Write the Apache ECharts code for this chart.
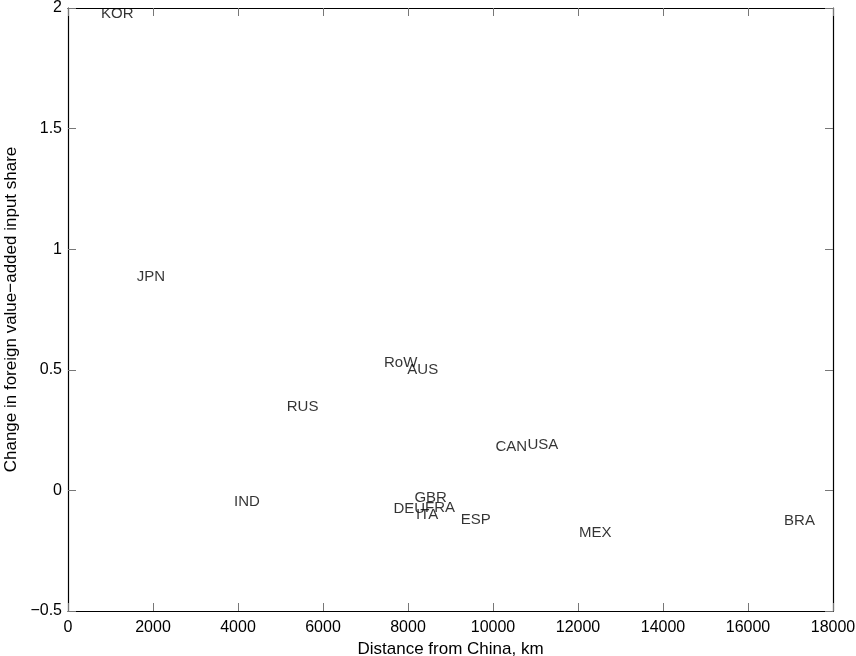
<!DOCTYPE html>
<html>
<head>
<meta charset="utf-8">
<script src="https://cdn.jsdelivr.net/npm/echarts@6/dist/echarts.min.js"></script>
<style>html,body{margin:0;padding:0;background:#fff}#c{width:856px;height:656px}</style>
</head>
<body>
<div id="c"></div>
<script>
var countries = ['KOR','JPN','RUS','IND','RoW','AUS','CAN','USA','GBR','DEU','FRA','ITA','ESP','MEX','BRA'];
var distances = [776, 1616, 5145, 3906, 7435, 7984, 10055, 10808, 8149, 7655, 8400, 8188, 9240, 12024, 16847];
var changes = [1.975, 0.886, 0.347, -0.049, 0.529, 0.499, 0.181, 0.188, -0.029, -0.077, -0.072, -0.102, -0.123, -0.178, -0.127];
var xTicks = [0, 2000, 4000, 6000, 8000, 10000, 12000, 14000, 16000, 18000];
var yTicks = [-0.5, 0, 0.5, 1, 1.5, 2];

var FONT = 'Liberation Sans, Arial, Helvetica, sans-serif';
var points = countries.map(function (c, i) { return { name: c, value: [distances[i], changes[i]] }; });

function fmtY(v) { return String(v).replace('-', '\u2212'); }
function fmtX(v) { return String(v); }

var tickStyle = { show: true, inside: true, length: 8, lineStyle: { color: '#777', width: 1 } };
var lineStyle = { show: true, onZero: false, lineStyle: { color: '#000', width: 1.2 } };

var chart = echarts.init(document.getElementById('c'), null, { renderer: 'canvas' });
chart.setOption({
  backgroundColor: '#fff',
  animation: false,
  grid: { left: 68, right: 23, top: 8, bottom: 45, containLabel: false, outerBoundsMode: 'none' },
  xAxis: [{
    type: 'value', min: xTicks[0], max: xTicks[xTicks.length - 1], interval: 2000,
    position: 'bottom',
    name: 'Distance from China, km', nameLocation: 'middle', nameGap: 28,
    nameTextStyle: { fontFamily: FONT, fontSize: 17, color: '#000' },
    axisLine: lineStyle, axisTick: tickStyle,
    axisLabel: { fontFamily: FONT, fontSize: 16, color: '#000', margin: 9, formatter: fmtX },
    splitLine: { show: false }
  }, {
    type: 'value', min: xTicks[0], max: xTicks[xTicks.length - 1], interval: 2000,
    position: 'top',
    axisLine: lineStyle, axisTick: tickStyle,
    axisLabel: { show: false }, splitLine: { show: false }
  }],
  yAxis: [{
    type: 'value', min: yTicks[0], max: yTicks[yTicks.length - 1], interval: 0.5,
    position: 'left',
    name: 'Change in foreign value\u2212added input share', nameLocation: 'middle', nameGap: 47,
    nameTextStyle: { fontFamily: FONT, fontSize: 17, color: '#000' },
    axisLine: lineStyle, axisTick: tickStyle,
    axisLabel: { fontFamily: FONT, fontSize: 16, color: '#000', margin: 6, formatter: fmtY },
    splitLine: { show: false }
  }, {
    type: 'value', min: yTicks[0], max: yTicks[yTicks.length - 1], interval: 0.5,
    position: 'right',
    axisLine: lineStyle, axisTick: tickStyle,
    axisLabel: { show: false }, splitLine: { show: false }
  }],
  series: [{
    type: 'scatter',
    xAxisIndex: 0, yAxisIndex: 0,
    data: points,
    symbolSize: 0.1,
    itemStyle: { color: 'rgba(0,0,0,0)' },
    label: {
      show: true, position: 'right', distance: 0,
      formatter: function (p) { return p.name; },
      fontFamily: FONT, fontSize: 15, color: '#000'
    },
    labelLayout: { hideOverlap: false },
    emphasis: { disabled: true }
  }]
});
</script>
</body>
</html>
